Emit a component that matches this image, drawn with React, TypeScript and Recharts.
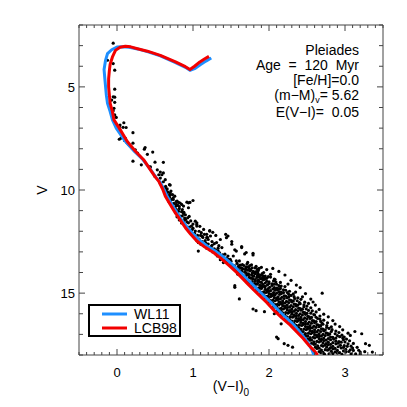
import { ScatterChart, Scatter, XAxis, YAxis, Legend } from "recharts";

// Pleiades colour-magnitude diagram: (V-I)0 vs V, stars + two isochrones.
type Pt = [number, number];

const brightStars: Pt[] = [
  [-0.05, 2.88], [-0.125, 3.71], [-0.05, 3.87], [-0.03, 4.19], [-0.03, 5.11], [-0.05, 5.48], [-0.03, 5.5],
  [-0.07, 5.64], [-0.03, 5.75], [-0.04, 6.04], [-0.05, 6.16], [-0.03, 6.36], [-0.01, 6.48], [0.04, 6.85],
  [0.09, 6.74], [0.08, 6.96], [0.12, 6.97], [0.03, 6.93], [0.21, 7.22], [0.07, 7.3], [0.05, 7.49], [0.11, 7.49],
  [0.03, 7.54], [0.21, 7.73], [0.2, 7.97], [0.24, 8.05], [0.37, 7.94], [0.36, 8.02], [0.27, 8.21], [0.4, 8.27],
  [0.47, 8.16], [0.21, 8.6], [0.32, 8.78], [0.42, 8.86], [0.5, 8.65], [0.61, 8.66], [0.44, 8.88], [0.53, 9.02],
  [0.57, 9.13], [0.55, 9.26], [0.59, 9.26], [0.61, 9.17], [0.5, 9.34], [0.57, 9.42], [0.1, 7.6], [0.13, 7.7],
  [0.15, 7.78], [0.17, 7.85], [0.19, 7.92],
];

const midStars: Pt[] = [
  [0.635, 9.5], [0.61, 9.6], [0.69, 9.74], [0.57, 9.7], [0.7, 9.76], [0.635, 9.9], [0.65, 10.06], [0.7, 10.14],
  [0.73, 10.22], [0.68, 10.3], [0.74, 10.38], [0.79, 10.54], [0.71, 10.62], [0.94, 10.62], [1.0, 10.51],
  [0.68, 10.54], [0.81, 10.6], [0.85, 10.7], [0.92, 10.59], [0.94, 10.86], [0.81, 11.03], [0.875, 11.14],
  [0.89, 11.36], [0.83, 11.42], [0.94, 11.59], [1.03, 11.51], [1.05, 11.75], [0.99, 11.92], [1.14, 11.91],
  [1.18, 12.15], [1.1, 12.2], [1.19, 12.3], [1.07, 12.96], [0.7, 10.24], [0.74, 10.46], [0.78, 10.56],
  [0.72, 10.7], [0.83, 10.63], [0.875, 10.78], [0.96, 10.6], [0.77, 11.1], [0.83, 11.26], [0.9, 11.43],
  [0.98, 11.75], [1.05, 11.59], [1.09, 11.76], [1.03, 11.99], [1.11, 12.07], [1.22, 11.99], [1.18, 12.31],
  [1.23, 12.23], [1.07, 12.55], [1.31, 12.55], [1.38, 12.79], [1.44, 12.31], [1.51, 12.63], [1.33, 12.95],
  [1.42, 13.11], [1.46, 13.35], [1.53, 13.2], [1.57, 12.96], [1.61, 13.44], [1.55, 13.68], [1.64, 13.92],
  [1.7, 13.76], [1.59, 14.08], [1.55, 14.64],
  [0.64, 9.82], [0.66, 9.95], [0.62, 10.0], [0.67, 10.1], [0.71, 10.05], [0.66, 10.2], [0.69, 10.35],
  [0.72, 10.45], [0.76, 10.3], [0.7, 10.5], [0.75, 10.65], [0.77, 10.8], [0.8, 10.75], [0.74, 10.9],
  [0.78, 10.95], [0.82, 10.9], [0.76, 11.0], [0.8, 11.15], [0.85, 11.05], [0.79, 11.3], [0.86, 11.25],
  [0.82, 11.45], [0.88, 11.5], [0.85, 11.6], [0.92, 11.55], [0.89, 11.7], [0.95, 11.8], [0.92, 11.88],
  [1.0, 11.85], [0.96, 12.0], [1.02, 12.1], [0.99, 12.15], [1.06, 12.2], [1.02, 12.3], [1.08, 12.38],
  [1.13, 12.3], [1.05, 12.45], [1.12, 12.5], [1.16, 12.45], [1.1, 12.62], [1.15, 12.7], [1.2, 12.62],
  [1.24, 12.75], [1.18, 12.82], [1.22, 12.9], [1.28, 12.85], [1.26, 13.0], [1.3, 13.1], [1.35, 13.05],
  [1.32, 13.2], [1.38, 13.25], [1.36, 13.38], [1.41, 13.4], [1.4, 13.52], [1.45, 13.5], [1.5, 13.45],
  [1.46, 13.2], [1.34, 12.7], [1.28, 12.6], [1.25, 12.5], [1.2, 12.4], [1.15, 12.15], [1.08, 12.0],
  [1.0, 11.65], [0.97, 11.5], [0.93, 11.35], [0.9, 11.2], [0.86, 10.95], [0.82, 10.8], [0.78, 10.7],
  [1.46, 12.23], [1.51, 12.5], [1.64, 12.79], [1.55, 12.9], [1.7, 13.03], [1.79, 13.07], [1.57, 13.44],
  [1.36, 12.4], [1.43, 12.15], [1.64, 12.74], [1.68, 13.1], [1.79, 13.15], [1.72, 13.51], [1.05, 11.67],
  [1.22, 11.97], [0.9, 11.43], [1.26, 12.05], [1.3, 12.2], [1.12, 12.25], [1.17, 12.58], [1.3, 12.92],
  [1.39, 13.15], [1.44, 13.3], [1.49, 13.36], [1.25, 12.68], [1.33, 12.82], [0.88, 11.08], [0.95, 11.28],
];

const faintStars: Pt[] = [
  [1.49, 13.61], [1.58, 13.56], [1.62, 13.64], [1.71, 13.59], [1.77, 13.63],
  [1.54, 13.69], [1.6, 13.74], [1.67, 13.66], [1.73, 13.72], [1.83, 13.7], [1.9, 13.75],
  [1.56, 13.83], [1.63, 13.77], [1.69, 13.85], [1.74, 13.8], [1.82, 13.78],
  [1.57, 13.87], [1.64, 13.93], [1.72, 13.89], [1.79, 13.95], [1.86, 13.9], [1.97, 13.86],
  [1.61, 14.04], [1.68, 13.97], [1.71, 14.06], [1.8, 14.01], [1.84, 13.96], [1.91, 14.05],
  [1.64, 14.09], [1.7, 14.15], [1.77, 14.11], [1.82, 14.06], [1.89, 14.14], [2.02, 14.09],
  [1.66, 14.19], [1.74, 14.24], [1.79, 14.17], [1.87, 14.22], [1.94, 14.26], [1.99, 14.2],
  [1.69, 14.33], [1.76, 14.27], [1.82, 14.35], [1.89, 14.3], [1.97, 14.28], [2.08, 14.34],
  [1.72, 14.38], [1.78, 14.44], [1.86, 14.4], [1.92, 14.36], [2.0, 14.45], [2.06, 14.41],
  [1.74, 14.49], [1.81, 14.54], [1.88, 14.46], [1.95, 14.51], [2.04, 14.55], [2.15, 14.48],
  [1.77, 14.63], [1.84, 14.57], [1.9, 14.65], [1.98, 14.6], [2.07, 14.57], [2.13, 14.64],
  [1.8, 14.69], [1.87, 14.74], [1.94, 14.67], [2.01, 14.72], [2.1, 14.76], [2.21, 14.68],
  [1.83, 14.83], [1.9, 14.77], [1.97, 14.85], [2.05, 14.8], [2.12, 14.78], [2.19, 14.84],
  [1.86, 14.88], [1.93, 14.94], [2.0, 14.9], [2.08, 14.86], [2.16, 14.95], [2.27, 14.91],
  [1.89, 15.03], [1.96, 14.97], [2.03, 15.05], [2.1, 15.0], [2.19, 14.98], [2.32, 15.04],
  [1.92, 15.08], [1.99, 15.14], [2.06, 15.1], [2.14, 15.06], [2.22, 15.15], [2.29, 15.11],
  [1.95, 15.22], [2.02, 15.17], [2.1, 15.24], [2.17, 15.2], [2.26, 15.18], [2.38, 15.23],
  [1.98, 15.28], [2.05, 15.34], [2.12, 15.3], [2.2, 15.26], [2.29, 15.35], [2.42, 15.3],
  [2.0, 15.43], [2.08, 15.37], [2.15, 15.45], [2.23, 15.4], [2.32, 15.38], [2.47, 15.44],
  [2.03, 15.48], [2.11, 15.54], [2.18, 15.5], [2.26, 15.46], [2.35, 15.55], [2.41, 15.51],
  [2.06, 15.62], [2.13, 15.57], [2.21, 15.64], [2.29, 15.6], [2.38, 15.58], [2.5, 15.63],
  [2.08, 15.68], [2.16, 15.74], [2.24, 15.7], [2.32, 15.66], [2.41, 15.75], [2.55, 15.71],
  [2.11, 15.83], [2.19, 15.77], [2.27, 15.85], [2.35, 15.8], [2.44, 15.78], [2.52, 15.84],
  [2.13, 15.88], [2.22, 15.94], [2.3, 15.9], [2.38, 15.86], [2.47, 15.95], [2.62, 15.91],
  [2.16, 16.03], [2.25, 15.97], [2.33, 16.05], [2.41, 16.0], [2.5, 15.98], [2.59, 16.04],
  [2.19, 16.08], [2.28, 16.14], [2.36, 16.1], [2.44, 16.06], [2.53, 16.15], [2.67, 16.11],
  [2.22, 16.22], [2.31, 16.17], [2.39, 16.24], [2.47, 16.2], [2.56, 16.18], [2.64, 16.23],
  [2.25, 16.28], [2.34, 16.34], [2.42, 16.3], [2.5, 16.26], [2.59, 16.35], [2.72, 16.31],
  [2.28, 16.43], [2.37, 16.37], [2.45, 16.45], [2.53, 16.4], [2.62, 16.38], [2.77, 16.44],
  [2.31, 16.48], [2.4, 16.54], [2.48, 16.5], [2.56, 16.46], [2.65, 16.55], [2.71, 16.51],
  [2.34, 16.62], [2.43, 16.57], [2.51, 16.64], [2.59, 16.6], [2.68, 16.58], [2.82, 16.63],
  [2.37, 16.68], [2.46, 16.74], [2.54, 16.7], [2.62, 16.66], [2.71, 16.75], [2.79, 16.71],
  [2.4, 16.83], [2.49, 16.77], [2.57, 16.85], [2.65, 16.8], [2.74, 16.78], [2.88, 16.84],
  [2.43, 16.88], [2.52, 16.94], [2.6, 16.9], [2.68, 16.86], [2.77, 16.95], [2.92, 16.91],
  [2.46, 17.03], [2.55, 16.97], [2.63, 17.05], [2.71, 17.0], [2.8, 16.98], [2.96, 17.04],
  [2.49, 17.08], [2.58, 17.14], [2.66, 17.1], [2.74, 17.06], [2.84, 17.15], [2.93, 17.11],
  [2.51, 17.22], [2.6, 17.17], [2.69, 17.24], [2.78, 17.2], [2.88, 17.18], [3.02, 17.23],
  [2.54, 17.28], [2.63, 17.34], [2.72, 17.3], [2.81, 17.26], [2.92, 17.35], [3.06, 17.31],
  [2.56, 17.43], [2.66, 17.37], [2.75, 17.45], [2.84, 17.4], [2.95, 17.38], [3.11, 17.44],
  [2.59, 17.48], [2.69, 17.54], [2.78, 17.5], [2.88, 17.46], [2.99, 17.55],
  [2.61, 17.62], [2.71, 17.57], [2.81, 17.64], [2.91, 17.6], [3.03, 17.58], [3.16, 17.63],
  [2.63, 17.68], [2.74, 17.74], [2.84, 17.7], [2.95, 17.66], [3.07, 17.75],
  [2.66, 17.83], [2.77, 17.77], [2.87, 17.85], [2.98, 17.8], [3.11, 17.78], [3.26, 17.84],
  [2.68, 17.88], [2.79, 17.94], [2.9, 17.9], [3.01, 17.86], [3.14, 17.95],
];

const faintStarsB: Pt[] = [
  [1.52, 13.65], [1.6, 13.68], [1.65, 13.62], [1.75, 13.66],
  [1.55, 13.76], [1.64, 13.79], [1.7, 13.74], [1.78, 13.77], [1.87, 13.8],
  [1.6, 13.86], [1.66, 13.82], [1.76, 13.87], [1.85, 13.84],
  [1.6, 13.96], [1.69, 13.99], [1.75, 13.92], [1.82, 13.97], [1.93, 14.0],
  [1.63, 14.02], [1.73, 14.07], [1.78, 14.03], [1.86, 14.08],
  [1.67, 14.16], [1.73, 14.12], [1.8, 14.18], [1.85, 14.13], [1.95, 14.17],
  [1.69, 14.23], [1.77, 14.27], [1.84, 14.24], [1.91, 14.28], [2.02, 14.22],
  [1.72, 14.36], [1.79, 14.32], [1.86, 14.37], [1.94, 14.33],
  [1.75, 14.47], [1.82, 14.42], [1.9, 14.48], [1.97, 14.43], [2.09, 14.46],
  [1.78, 14.56], [1.85, 14.52], [1.92, 14.58], [2.0, 14.53], [2.1, 14.57],
  [1.81, 14.67], [1.88, 14.62], [1.95, 14.68], [2.04, 14.63], [2.16, 14.66],
  [1.84, 14.76], [1.91, 14.72], [1.99, 14.78], [2.07, 14.73], [2.15, 14.77],
  [1.87, 14.87], [1.95, 14.82], [2.02, 14.88], [2.11, 14.83], [2.22, 14.86],
  [1.9, 14.96], [1.98, 14.92], [2.06, 14.98], [2.13, 14.93], [2.24, 14.97],
  [1.93, 15.07], [2.0, 15.02], [2.08, 15.08], [2.16, 15.03], [2.26, 15.06],
  [1.96, 15.16], [2.04, 15.12], [2.12, 15.18], [2.2, 15.13], [2.33, 15.17],
  [1.99, 15.27], [2.07, 15.22], [2.15, 15.28], [2.24, 15.23], [2.34, 15.26],
  [2.02, 15.36], [2.1, 15.32], [2.18, 15.38], [2.27, 15.33], [2.37, 15.37],
  [2.05, 15.47], [2.13, 15.42], [2.21, 15.48], [2.3, 15.43], [2.4, 15.46],
  [2.08, 15.56], [2.16, 15.52], [2.24, 15.58], [2.33, 15.53], [2.46, 15.57],
  [2.1, 15.67], [2.18, 15.62], [2.27, 15.68], [2.36, 15.63], [2.46, 15.66],
  [2.13, 15.76], [2.21, 15.72], [2.3, 15.78], [2.39, 15.73], [2.49, 15.77],
  [2.16, 15.87], [2.24, 15.82], [2.33, 15.88], [2.42, 15.83], [2.57, 15.86],
  [2.18, 15.96], [2.27, 15.92], [2.36, 15.98], [2.45, 15.93], [2.55, 15.97],
  [2.21, 16.07], [2.3, 16.02], [2.39, 16.08], [2.48, 16.03], [2.6, 16.06],
  [2.24, 16.16], [2.33, 16.12], [2.42, 16.18], [2.51, 16.13], [2.62, 16.17],
  [2.27, 16.27], [2.36, 16.22], [2.45, 16.28], [2.54, 16.23], [2.67, 16.26],
  [2.3, 16.36], [2.39, 16.32], [2.48, 16.38], [2.57, 16.33], [2.68, 16.37],
  [2.33, 16.47], [2.42, 16.42], [2.51, 16.48], [2.6, 16.43], [2.7, 16.46],
  [2.36, 16.56], [2.45, 16.52], [2.54, 16.58], [2.63, 16.53], [2.76, 16.57],
  [2.39, 16.67], [2.48, 16.62], [2.57, 16.68], [2.66, 16.63], [2.76, 16.66],
  [2.42, 16.76], [2.51, 16.72], [2.6, 16.78], [2.69, 16.73], [2.83, 16.77],
  [2.45, 16.87], [2.54, 16.82], [2.63, 16.88], [2.72, 16.83], [2.82, 16.86],
  [2.48, 16.96], [2.57, 16.92], [2.66, 16.98], [2.75, 16.93], [2.87, 16.97],
  [2.51, 17.07], [2.6, 17.02], [2.69, 17.08], [2.78, 17.03], [2.9, 17.06],
  [2.54, 17.16], [2.63, 17.12], [2.72, 17.18], [2.81, 17.13], [2.97, 17.17],
  [2.56, 17.27], [2.66, 17.22], [2.75, 17.28], [2.85, 17.23], [2.98, 17.26],
  [2.59, 17.36], [2.68, 17.32], [2.78, 17.38], [2.88, 17.33], [3.0, 17.37],
  [2.61, 17.47], [2.71, 17.42], [2.81, 17.48], [2.91, 17.43], [3.04, 17.46],
  [2.64, 17.56], [2.74, 17.52], [2.84, 17.58], [2.94, 17.53], [3.08, 17.57],
  [2.66, 17.67], [2.76, 17.62], [2.87, 17.68], [2.98, 17.63], [3.1, 17.66],
  [2.69, 17.76], [2.79, 17.72], [2.9, 17.78], [3.01, 17.73], [3.18, 17.77],
  [2.71, 17.87], [2.82, 17.82], [2.93, 17.88], [3.05, 17.83], [3.2, 17.86],
  [2.73, 17.96], [2.84, 17.93], [2.96, 17.97], [3.08, 17.94],
];

const faintOutliers: Pt[] = [
  [2.05, 13.8], [1.92, 14.16], [2.07, 14.32], [2.14, 14.8], [2.36, 14.61], [2.7, 15.0], [1.61, 15.28],
  [1.79, 15.77], [1.83, 15.85], [2.12, 17.21], [2.2, 17.45], [2.25, 17.53], [3.07, 17.05], [3.22, 16.97],
  [3.27, 17.45], [3.32, 17.53], [3.2, 17.95], [1.55, 14.72], [2.16, 16.49], [2.1, 17.13], [2.31, 17.62],
  [2.99, 17.13], [3.13, 16.86], [3.36, 17.86], [1.94, 15.9], [2.07, 16.0], [1.85, 14.0],
  [2.55, 15.29], [2.61, 15.58], [2.48, 15.02], [2.41, 14.73], [2.29, 14.38], [2.21, 14.12], [2.72, 16.02],
  [2.84, 16.33], [2.93, 16.62], [3.04, 16.94], [2.66, 15.79], [2.35, 14.95], [2.52, 15.5], [2.78, 16.15],
  [2.87, 16.5], [2.13, 13.95], [2.25, 14.56], [2.44, 15.18], [2.97, 16.78], [2.58, 15.43],
];

const wl11: Pt[] = [
  [1.24, 3.6], [1.17, 3.75], [1.1, 3.92], [1.03, 4.1], [0.96, 4.2], [0.9, 4.05], [0.77, 3.82], [0.57, 3.5],
  [0.4, 3.29], [0.27, 3.16], [0.16, 3.08], [0.07, 3.05], [0.0, 3.07], [-0.07, 3.2], [-0.125, 3.39],
  [-0.15, 3.7], [-0.17, 4.16], [-0.16, 4.6], [-0.15, 5.0], [-0.14, 5.4], [-0.125, 5.8], [-0.09, 6.2],
  [-0.06, 6.6], [-0.01, 7.0], [0.1, 7.6], [0.23, 8.13], [0.34, 8.52], [0.44, 9.0], [0.51, 9.38],
  [0.57, 9.62], [0.62, 10.0], [0.66, 10.3], [0.72, 10.7], [0.79, 11.1], [0.86, 11.5], [0.93, 11.83],
  [1.0, 12.12], [1.08, 12.42], [1.2, 12.75], [1.31, 13.0], [1.42, 13.3], [1.52, 13.62], [1.61, 13.94],
  [1.7, 14.28], [1.77, 14.53], [1.85, 14.83], [1.92, 15.08], [2.02, 15.43], [2.12, 15.82], [2.22, 16.18],
  [2.32, 16.52], [2.4, 16.86], [2.47, 17.18], [2.53, 17.5], [2.57, 17.78], [2.59, 18.0],
];

const lcb98: Pt[] = [
  [1.21, 3.52], [1.15, 3.65], [1.09, 3.79], [1.02, 4.0], [0.96, 4.16], [0.9, 4.02], [0.77, 3.79],
  [0.57, 3.47], [0.4, 3.27], [0.27, 3.15], [0.18, 3.06], [0.11, 3.03], [0.04, 3.08], [-0.02, 3.23],
  [-0.06, 3.55], [-0.09, 3.9], [-0.1, 4.19], [-0.11, 4.6], [-0.11, 5.0], [-0.1, 5.4], [-0.09, 5.8],
  [-0.06, 6.2], [-0.04, 6.6], [0.03, 7.0], [0.135, 7.65], [0.245, 8.13], [0.35, 8.53], [0.44, 9.02],
  [0.5, 9.35], [0.55, 9.58], [0.6, 9.95], [0.636, 10.3], [0.7, 10.7], [0.766, 11.1], [0.84, 11.5],
  [0.9, 11.83], [0.97, 12.15], [1.05, 12.47], [1.16, 12.78], [1.27, 13.03], [1.38, 13.35], [1.48, 13.68],
  [1.57, 13.98], [1.66, 14.32], [1.72, 14.55], [1.8, 14.85], [1.87, 15.1], [1.97, 15.45], [2.07, 15.85],
  [2.17, 16.2], [2.28, 16.55], [2.37, 16.9], [2.45, 17.2], [2.53, 17.55], [2.6, 17.82], [2.64, 18.0],
];

const legendOrder = ["WL11", "LCB98"];
const xTickLabels = [0, 1, 2, 3];
const yTickLabels = [5, 10, 15];
const xTicks = Array.from({ length: 41 }, (_, i) => Math.round((-0.5 + i * 0.1) * 10) / 10);
const yTicks = Array.from({ length: 17 }, (_, i) => 2 + i);

const AXIS = "#444";
const BLUE = "#1e8fff";
const RED = "#f20000";

const toXY = (pts: Pt[]) => pts.map(([x, y]) => ({ x, y }));
const stars = toXY([...brightStars, ...midStars, ...faintStars, ...faintStarsB, ...faintOutliers]);

const xTick = (side: "bottom" | "top") => (props: any) => {
  const { x, y, payload } = props;
  const v = payload.value;
  const len = Number.isInteger(v) ? 6 : 3;
  const dir = side === "bottom" ? -1 : 1;
  return (
    <g>
      <line x1={x} x2={x} y1={y} y2={y + dir * len} stroke={AXIS} />
      {side === "bottom" && xTickLabels.includes(v) && (
        <text x={x} y={y + 22} textAnchor="middle" fontSize={13} fill="#000">
          {v}
        </text>
      )}
    </g>
  );
};

const yTick = (side: "left" | "right") => (props: any) => {
  const { x, y, payload } = props;
  const v = payload.value;
  const len = yTickLabels.includes(v) ? 6 : 4;
  const dir = side === "left" ? 1 : -1;
  return (
    <g>
      <line x1={x} x2={x + dir * len} y1={y} y2={y} stroke={AXIS} />
      {side === "left" && yTickLabels.includes(v) && (
        <text x={x - 4} y={y + 5} textAnchor="end" fontSize={13} fill="#000">
          {v}
        </text>
      )}
    </g>
  );
};

const StarDot = (p: any) => <circle cx={p.cx} cy={p.cy} r={1.6} fill="#000" />;
const NoDot = () => <g />;

// boxed legend, drawn as a tiny svg so its rows sit exactly
function LegendBox({ payload }: any) {
  const items = (payload || [])
    .filter((e: any) => legendOrder.includes(e.value))
    .sort((a: any, b: any) => legendOrder.indexOf(a.value) - legendOrder.indexOf(b.value));
  return (
    <svg width={93} height={33} style={{ display: "block" }}>
      <rect x={1} y={1} width={91} height={31} fill="#fff" stroke="#000" strokeWidth={2} />
      {items.map((e: any, i: number) => (
        <g key={e.value}>
          <line x1={14} x2={39} y1={10 + i * 14} y2={10 + i * 14} stroke={e.color} strokeWidth={3} />
          <text x={46} y={15 + i * 14} fontSize={14} fill="#000">
            {e.value}
          </text>
        </g>
      ))}
    </svg>
  );
}

export default function App() {
  return (
    <div
      style={{
        position: "relative",
        width: 392,
        height: 392,
        fontFamily: "'Liberation Sans', Arial, sans-serif",
        color: "#000",
      }}
    >
      <ScatterChart width={392} height={392} margin={{ top: 16, right: 16, bottom: 15, left: 21 }}>
        <XAxis
          xAxisId="b"
          type="number"
          dataKey="x"
          domain={[-0.5, 3.5]}
          ticks={xTicks}
          interval={0}
          tick={xTick("bottom")}
          tickLine={false}
          tickSize={0}
          tickMargin={0}
          axisLine={{ stroke: AXIS }}
          height={30}
          allowDataOverflow
        />
        <XAxis
          xAxisId="t"
          orientation="top"
          type="number"
          dataKey="x"
          domain={[-0.5, 3.5]}
          ticks={xTicks}
          interval={0}
          tick={xTick("top")}
          tickLine={false}
          tickSize={0}
          tickMargin={0}
          axisLine={{ stroke: AXIS }}
          height={1}
          allowDataOverflow
        />
        <YAxis
          yAxisId="l"
          type="number"
          dataKey="y"
          domain={[2, 18]}
          reversed
          ticks={yTicks}
          interval={0}
          tick={yTick("left")}
          tickLine={false}
          tickSize={0}
          tickMargin={0}
          axisLine={{ stroke: AXIS }}
          width={50}
          allowDataOverflow
        />
        <YAxis
          yAxisId="r"
          orientation="right"
          type="number"
          dataKey="y"
          domain={[2, 18]}
          reversed
          ticks={yTicks}
          interval={0}
          tick={yTick("right")}
          tickLine={false}
          tickSize={0}
          tickMargin={0}
          axisLine={{ stroke: AXIS }}
          width={1}
          allowDataOverflow
        />
        <Scatter
          xAxisId="b"
          yAxisId="l"
          data={stars}
          shape={StarDot}
          legendType="none"
          isAnimationActive={false}
        />
        <Scatter
          xAxisId="b"
          yAxisId="l"
          name="WL11"
          data={toXY(wl11)}
          fill={BLUE}
          line={{ stroke: BLUE, strokeWidth: 3, strokeLinejoin: "round" }}
          shape={NoDot}
          isAnimationActive={false}
        />
        <Scatter
          xAxisId="b"
          yAxisId="l"
          name="LCB98"
          data={toXY(lcb98)}
          fill={RED}
          line={{ stroke: RED, strokeWidth: 3, strokeLinejoin: "round" }}
          shape={NoDot}
          isAnimationActive={false}
        />
        <Legend
          layout="horizontal"
          verticalAlign="middle"
          align="center"
          content={LegendBox}
          wrapperStyle={{ left: 80, top: 296, width: 93, height: 33 }}
        />
      </ScatterChart>

      <div
        style={{
          position: "absolute",
          left: 34,
          top: 182,
          fontSize: 14,
          transform: "translate(-50%, -50%) rotate(-90deg)",
        }}
      >
        V
      </div>
      <div
        style={{
          position: "absolute",
          left: 223,
          top: 370,
          fontSize: 14,
          transform: "translateX(-50%)",
          whiteSpace: "pre",
        }}
      >
        (V−I)<span style={{ fontSize: 10, position: "relative", top: 5 }}>0</span>
      </div>
      <div
        style={{
          position: "absolute",
          right: 41,
          top: 35,
          fontSize: 14,
          lineHeight: "15px",
          textAlign: "right",
          whiteSpace: "pre",
        }}
      >
        <div>Pleiades</div>
        <div>Age  =  120  Myr</div>
        <div>[Fe/H]=0.0</div>
        <div>
          (m−M)<span style={{ fontSize: 9, position: "relative", top: 3 }}>v</span>= 5.62
        </div>
        <div>E(V−I)=  0.05</div>
      </div>
    </div>
  );
}
